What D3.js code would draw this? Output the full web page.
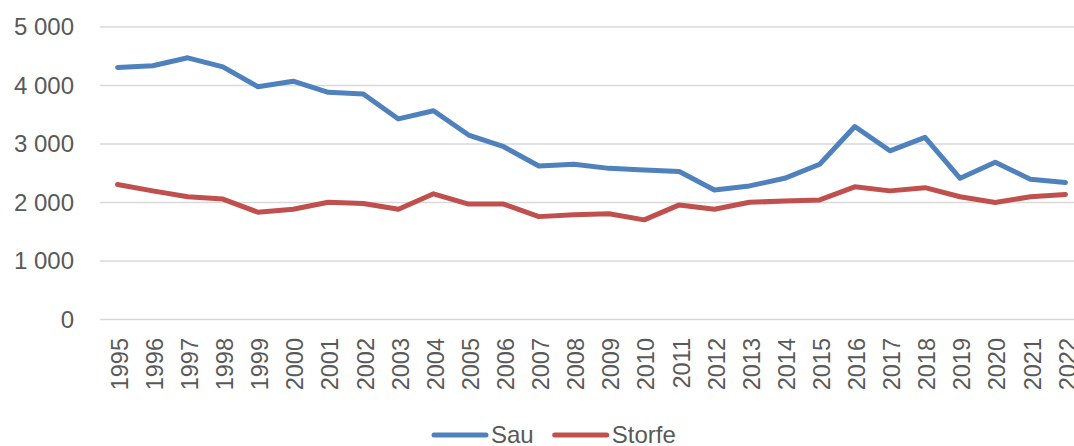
<!DOCTYPE html>
<html>
<head>
<meta charset="utf-8">
<script src="https://cdn.jsdelivr.net/npm/d3@7"></script>
<style>
  body { margin: 0; background: #fff; }
  text { font-family: "Liberation Sans", Arial, sans-serif; fill: #595959; }
</style>
</head>
<body>
<svg id="chart" width="1074" height="446"></svg>
<script>
// Data
var years = ['1995','1996','1997','1998','1999','2000','2001','2002','2003','2004',
             '2005','2006','2007','2008','2009','2010','2011','2012','2013','2014',
             '2015','2016','2017','2018','2019','2020','2021','2022'];
var sau = [4300, 4330, 4465, 4310, 3970, 4065, 3875, 3845, 3420, 3560,
           3145, 2945, 2615, 2645, 2575, 2545, 2520, 2205, 2275, 2405,
           2645, 3290, 2875, 3105, 2405, 2680, 2390, 2335];
var storfe = [2300, 2190, 2090, 2050, 1825, 1875, 1995, 1975, 1875, 2140,
              1965, 1965, 1750, 1780, 1800, 1695, 1950, 1875, 1995, 2015,
              2035, 2260, 2190, 2245, 2090, 1990, 2090, 2130];
var yTicks = [0, 1000, 2000, 3000, 4000, 5000];
var seriesNames = ['Sau', 'Storfe'];
var seriesColors = ['#4f81bd', '#c0504d'];

var svg = d3.select('#chart');
var padding = {t: 26.5, l: 100, r: 1083, b: 319};

var x = d3.scalePoint().domain(years).range([padding.l, padding.r]).padding(0.5);
var y = d3.scaleLinear().domain([0, 5000]).range([padding.b, padding.t]);

// thousands separated by a space
var fmt = function(v) { return d3.format(',')(v).replace(/,/g, ' '); };

// gridlines + y labels
var yAxis = svg.append('g')
  .attr('transform', 'translate(' + padding.l + ',0)')
  .call(d3.axisLeft(y).tickValues(yTicks).tickSize(-(1074 - padding.l)).tickPadding(26).tickFormat(fmt));
yAxis.select('.domain').remove();
yAxis.selectAll('line').attr('stroke', '#d9d9d9').attr('stroke-width', 1.5);
yAxis.selectAll('text').style('font-size', '24px').attr('fill', '#595959').attr('dy', '0.35em');

// x labels, rotated
var xAxis = svg.append('g')
  .attr('transform', 'translate(0,' + padding.b + ')')
  .call(d3.axisBottom(x).tickSize(0));
xAxis.select('.domain').remove();
xAxis.selectAll('text')
  .style('font-size', '23.5px')
  .attr('fill', '#595959')
  .attr('text-anchor', 'end')
  .attr('transform', 'translate(1.5,19) rotate(-90)')
  .attr('x', 0).attr('y', 0).attr('dy', '0.35em');

var line = d3.line().x(function(d, i) { return x(years[i]); }).y(function(d) { return y(d); });

[sau, storfe].forEach(function(s, i) {
  svg.append('path')
    .datum(s)
    .attr('d', line)
    .attr('fill', 'none')
    .attr('stroke', seriesColors[i])
    .attr('stroke-width', 5)
    .attr('stroke-linejoin', 'round')
    .attr('stroke-linecap', 'round');
});

// legend
var legend = svg.append('g').attr('transform', 'translate(434,435)');
var lx = 0;
seriesNames.forEach(function(name, i) {
  legend.append('line')
    .attr('x1', lx).attr('x2', lx + 52).attr('y1', 0).attr('y2', 0)
    .attr('stroke', seriesColors[i]).attr('stroke-width', 5).attr('stroke-linecap', 'round');
  var t = legend.append('text')
    .attr('x', lx + 57).attr('y', 0).attr('dy', '0.35em')
    .style('font-size', '24px')
    .text(name);
  lx += 57 + t.node().getComputedTextLength() + 21;
});
</script>
</body>
</html>
